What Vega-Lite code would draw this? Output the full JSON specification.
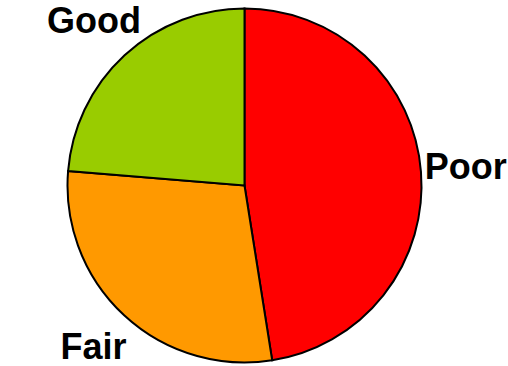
{
  "$schema": "https://vega.github.io/schema/vega-lite/v6.json",
  "autosize": {"type": "fit", "contains": "padding"},
  "width": 508,
  "height": 366,
  "padding": {"left": 0, "right": 10, "top": 5, "bottom": 0},
  "background": "white",
  "view": {"stroke": null},
  "data": {
    "values": [
      {"rating": "Poor", "share": 47.5, "rank": 1},
      {"rating": "Fair", "share": 28.8, "rank": 2},
      {"rating": "Good", "share": 23.7, "rank": 3}
    ]
  },
  "encoding": {
    "theta": {"field": "share", "type": "quantitative", "stack": true},
    "order": {"field": "rank", "type": "quantitative"},
    "color": {
      "field": "rating",
      "type": "nominal",
      "scale": {"domain": ["Poor", "Fair", "Good"], "range": ["#FF0000", "#FF9900", "#99CC00"]},
      "legend": null
    }
  },
  "layer": [
    {
      "mark": {"type": "arc", "outerRadius": 177, "stroke": "black", "strokeWidth": 2}
    },
    {
      "mark": {"type": "text", "radius": 222, "font": "Liberation Sans", "fontWeight": "bold", "fontSize": 36, "fill": "black", "align": "center", "baseline": "middle"},
      "encoding": {
        "text": {"field": "rating", "type": "nominal"},
        "color": {"value": "black"}
      }
    }
  ]
}
